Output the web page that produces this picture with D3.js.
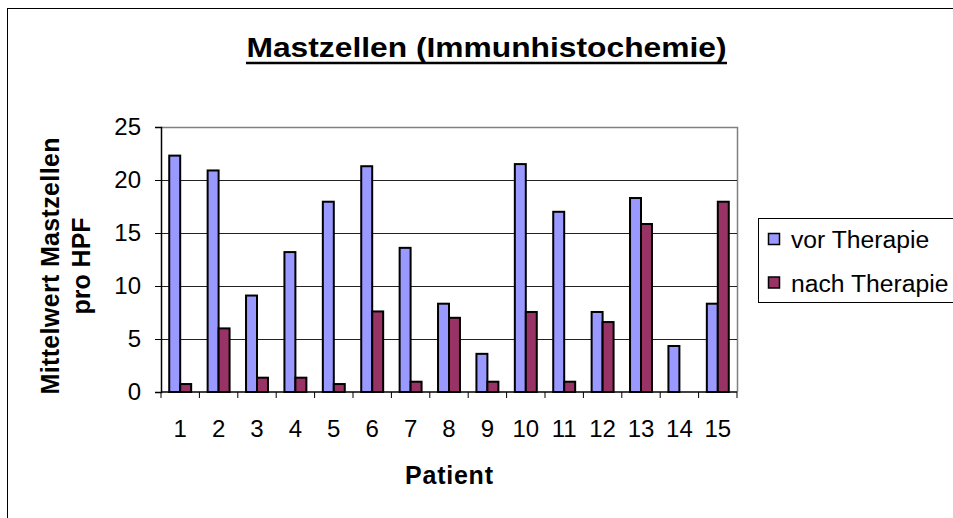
<!DOCTYPE html>
<html>
<head>
<meta charset="utf-8">
<script src="https://cdn.jsdelivr.net/npm/d3@7"></script>
<style>
  body { margin: 0; background: #fff; }
  svg { display: block; font-family: "Liberation Sans", Arial, sans-serif; }
</style>
</head>
<body>
<svg id="chart"></svg>
<script>
// data
const patients = ['1','2','3','4','5','6','7','8','9','10','11','12','13','14','15'];
const seriesNames = ['vor Therapie', 'nach Therapie'];
const vorTherapie = [22.3, 20.9, 9.1, 13.2, 17.95, 21.3, 13.6, 8.33, 3.6, 21.5, 17.0, 7.55, 18.3, 4.34, 8.33];
const nachTherapie = [0.75, 6.0, 1.35, 1.35, 0.75, 7.6, 0.97, 7.0, 0.97, 7.55, 0.97, 6.6, 15.85, 0, 17.95];
const yTicks = [0, 5, 10, 15, 20, 25];
const colors = ['#9999ff', '#993366'];

const W = 953, H = 518;
const svg = d3.select('#chart')
  .attr('width', W)
  .attr('height', H)
  .attr('viewBox', [0, 0, W, H]);

// outer chart border (right/bottom run off the page)
svg.append('rect')
  .attr('x', 7.5).attr('y', 8.5)
  .attr('width', W).attr('height', H)
  .attr('fill', 'none').attr('stroke', '#000').attr('stroke-width', 1);

const plotL = 161, plotR = 737, plotT = 127, plotB = 392;

const x0 = d3.scaleBand().domain(patients).range([plotL, plotR]);
const x1 = d3.scaleBand().domain(seriesNames).range([0, x0.bandwidth()]).paddingOuter(0.75);
const y = d3.scaleLinear().domain([0, 25]).range([plotB, plotT]);

// plot border (top + right gray)
svg.append('path')
  .attr('d', `M${plotL},${plotT + 0.5}H${plotR + 0.5}V${plotB}`)
  .attr('fill', 'none').attr('stroke', '#808080').attr('stroke-width', 1.5);

// gridlines
svg.append('g')
  .selectAll('line')
  .data(yTicks.filter(d => d > 0 && d < 25))
  .join('line')
    .attr('x1', plotL).attr('x2', plotR)
    .attr('y1', d => Math.round(y(d)) + 0.5).attr('y2', d => Math.round(y(d)) + 0.5)
    .attr('stroke', '#222').attr('stroke-width', 1);

// bars
const rows = patients.map((p, i) => ({ p, vals: [vorTherapie[i], nachTherapie[i]] }));
const groups = svg.append('g')
  .selectAll('g')
  .data(rows)
  .join('g')
    .attr('transform', d => `translate(${x0(d.p)},0)`);

groups.selectAll('rect')
  .data(d => d.vals.map((v, k) => ({ key: seriesNames[k], v, k })).filter(e => e.v > 0))
  .join('rect')
    .attr('x', e => x1(e.key))
    .attr('y', e => y(e.v))
    .attr('width', x1.bandwidth())
    .attr('height', e => y(0) - y(e.v))
    .attr('fill', e => colors[e.k])
    .attr('stroke', '#000')
    .attr('stroke-width', 2);

// y axis
const yAxis = svg.append('g')
  .attr('transform', `translate(${plotL},0)`)
  .call(d3.axisLeft(y).tickValues(yTicks).tickSize(6).tickPadding(14));
yAxis.select('.domain').attr('stroke', '#000').attr('stroke-width', 1.5);
yAxis.selectAll('.tick line').attr('stroke', '#000');
yAxis.selectAll('text')
  .attr('font-size', 24).attr('fill', '#000')
  .attr('font-family', '"Liberation Sans", Arial, sans-serif');

// x axis with ticks between categories
const xAxisG = svg.append('g')
  .attr('transform', `translate(0,${plotB})`);
xAxisG.append('line')
  .attr('x1', plotL).attr('x2', plotR)
  .attr('stroke', '#000').attr('stroke-width', 1.5);
xAxisG.selectAll('line.tk')
  .data(patients.concat(['end']))
  .join('line')
    .attr('class', 'tk')
    .attr('x1', d => d === 'end' ? plotR : x0(d))
    .attr('x2', d => d === 'end' ? plotR : x0(d))
    .attr('y1', 0).attr('y2', 6)
    .attr('stroke', '#000');
xAxisG.selectAll('text')
  .data(patients)
  .join('text')
    .attr('x', d => x0(d) + x0.bandwidth() / 2)
    .attr('y', 45)
    .attr('text-anchor', 'middle')
    .attr('font-size', 24)
    .text(d => d);

// title
svg.append('text')
  .attr('x', 486.5).attr('y', 57)
  .attr('text-anchor', 'middle')
  .attr('font-size', 28).attr('font-weight', 'bold')
  .attr('textLength', 480).attr('lengthAdjust', 'spacingAndGlyphs')
  .text('Mastzellen (Immunhistochemie)');
svg.append('line')
  .attr('x1', 246).attr('x2', 727)
  .attr('y1', 63).attr('y2', 63)
  .attr('stroke', '#000').attr('stroke-width', 2.7);

// axis titles
svg.append('text')
  .attr('x', 449).attr('y', 484)
  .attr('text-anchor', 'middle')
  .attr('font-size', 25).attr('font-weight', 'bold')
  .attr('textLength', 88).attr('lengthAdjust', 'spacing')
  .text('Patient');

const yTitle = svg.append('text')
  .attr('transform', 'translate(0,266) rotate(-90)')
  .attr('text-anchor', 'middle')
  .attr('font-size', 25).attr('font-weight', 'bold');
yTitle.append('tspan').attr('x', 0).attr('y', 59).attr('textLength', 257).attr('lengthAdjust', 'spacing').text('Mittelwert Mastzellen');
yTitle.append('tspan').attr('x', 0).attr('y', 90).text('pro HPF');

// legend
const legend = svg.append('g');
legend.append('rect')
  .attr('x', 758.5).attr('y', 218.5)
  .attr('width', 220).attr('height', 84)
  .attr('fill', '#fff').attr('stroke', '#000');
const li = legend.selectAll('g.item')
  .data(seriesNames)
  .join('g')
    .attr('class', 'item')
    .attr('transform', (d, i) => `translate(768.5,${233.5 + i * 43.5})`);
li.append('rect')
  .attr('width', 11).attr('height', 11)
  .attr('fill', (d, i) => colors[i])
  .attr('stroke', '#000').attr('stroke-width', 1.5);
li.append('text')
  .attr('x', 22.5).attr('y', 14.5)
  .attr('font-size', 24.7)
  .text(d => d);
</script>
</body>
</html>
